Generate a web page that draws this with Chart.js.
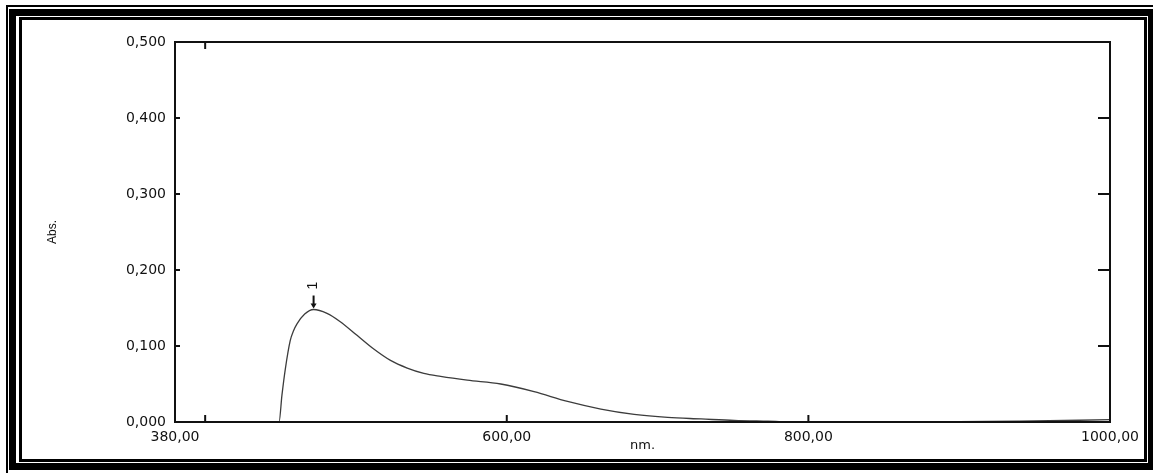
<!DOCTYPE html>
<html>
<head>
<meta charset="utf-8">
<script src="https://cdn.jsdelivr.net/npm/chart.js@4/dist/chart.umd.min.js"></script>
<style>
  body { margin: 0; background: #fff; overflow: hidden; }
  #wrap { position: relative; width: 1153px; height: 473px; overflow: hidden; background: #fff; }
  #chart { position: absolute; left: 0; top: 0; }
  .f { position: absolute; box-sizing: border-box; border-style: solid; border-color: #000; pointer-events: none; }
</style>
</head>
<body>
<div id="wrap">
  <canvas id="chart" width="1153" height="473"></canvas>
  <div class="f" style="left:6px;top:5px;width:1160px;height:480px;border-width:2px"></div>
  <div class="f" style="left:9px;top:9px;width:1146px;height:461px;border-width:7px"></div>
  <div class="f" style="left:19px;top:17px;width:1128px;height:445px;border-width:3px"></div>
</div>
<script>
// spectrum (nm / Abs.)
const wavelengths = [380, 449, 450.9, 453.1, 456.4, 458.6, 460.9, 466, 471.9, 480.8, 489.6, 500.7, 511.8, 522.9, 534, 545, 556.1, 573.8, 596, 618.1, 640.3, 662.4, 684.5, 706.7, 728.8, 750.8, 773.2, 795.3, 880, 940, 1000];
const absValues   = [0, 0, 0.035, 0.069, 0.107, 0.120, 0.129, 0.142, 0.148, 0.143, 0.132, 0.114, 0.096, 0.081, 0.071, 0.064, 0.060, 0.055, 0.050, 0.040, 0.027, 0.017, 0.010, 0.006, 0.004, 0.002, 0.001, 0.000, 0.000, 0.001, 0.003];

const xLabelValues = [380, 600, 800, 1000];
const xTickMarks = [400, 600, 800];
const xTopMarks = [400];
const yTickMarks = [0.1, 0.2, 0.3, 0.4];

const peakNm = [471.9];
const peakAbs = [0.148];
const peakLabels = ['1'];

const comma = (v, d) => v.toFixed(d).replace('.', ',');

const frameLines = {
  id: 'frameLines',
  afterDraw(chart) {
    const { ctx, chartArea: a, scales: { x, y } } = chart;
    const line = (x1, y1, x2, y2) => { ctx.beginPath(); ctx.moveTo(x1, y1); ctx.lineTo(x2, y2); ctx.stroke(); };
    ctx.save();
    ctx.strokeStyle = '#111';
    ctx.lineWidth = 2;
    ctx.strokeRect(a.left, a.top, a.right - a.left, a.bottom - a.top);

    xTickMarks.forEach(v => {
      const px = x.getPixelForValue(v);
      line(px, a.bottom, px, a.bottom - 7);
    });
    xTopMarks.forEach(v => {
      const px = x.getPixelForValue(v);
      line(px, a.top, px, a.top + 7);
    });
    yTickMarks.forEach(v => {
      const py = y.getPixelForValue(v);
      line(a.left, py, a.left + 5, py);
      line(a.right, py, a.right - 12, py);
    });

    // peak pick arrow and number
    peakNm.forEach((nm, i) => {
      const px = x.getPixelForValue(nm);
      const py = y.getPixelForValue(peakAbs[i]);
      ctx.lineWidth = 2;
      line(px, py - 14, px, py - 5);
      ctx.fillStyle = '#111';
      ctx.beginPath();
      ctx.moveTo(px - 3, py - 6);
      ctx.lineTo(px + 3, py - 6);
      ctx.lineTo(px, py - 1);
      ctx.closePath();
      ctx.fill();
      ctx.save();
      ctx.translate(px, py - 24);
      ctx.rotate(-Math.PI / 2);
      ctx.font = '14px "Liberation Sans", Arial, sans-serif';
      ctx.textAlign = 'center';
      ctx.textBaseline = 'middle';
      ctx.fillText(peakLabels[i], 0, 0);
      ctx.restore();
    });
    ctx.restore();
  }
};

new Chart(document.getElementById('chart'), {
  type: 'line',
  data: {
    datasets: [{
      data: wavelengths.map((w, i) => ({ x: w, y: absValues[i] })),
      borderColor: '#3c3c3c',
      borderWidth: 1.3,
      pointRadius: 0,
      fill: false,
      cubicInterpolationMode: 'monotone'
    }]
  },
  options: {
    responsive: false,
    devicePixelRatio: 1,
    animation: false,
    layout: { padding: { left: 0, top: 42, right: 43, bottom: 0 } },
    plugins: { legend: { display: false }, tooltip: { enabled: false } },
    scales: {
      x: {
        type: 'linear',
        min: 380,
        max: 1000,
        afterBuildTicks: s => { s.ticks = xLabelValues.map(v => ({ value: v })); },
        afterFit: s => { s.height = 51; },
        grid: { display: false, drawTicks: false },
        border: { display: false },
        ticks: {
          padding: 7,
          color: '#111',
          font: { family: '"DejaVu Sans", sans-serif', size: 14 },
          maxRotation: 0,
          callback: v => comma(v, 2)
        },
        title: {
          display: true,
          text: 'nm.',
          color: '#111',
          font: { family: '"DejaVu Sans", sans-serif', size: 13 },
          padding: { top: 0, bottom: 20 }
        }
      },
      y: {
        min: 0,
        max: 0.5,
        afterFit: s => { s.width = 175; },
        grid: { display: false, drawTicks: false },
        border: { display: false },
        ticks: {
          stepSize: 0.1,
          padding: 9,
          color: '#111',
          font: { family: '"DejaVu Sans", sans-serif', size: 14 },
          callback: v => comma(v, 3)
        },
        title: {
          display: true,
          text: 'Abs.',
          color: '#111',
          font: { family: '"Liberation Sans", Arial, sans-serif', size: 12 },
          padding: { top: 45, bottom: 0 }
        }
      }
    }
  },
  plugins: [frameLines]
});
</script>
</body>
</html>
